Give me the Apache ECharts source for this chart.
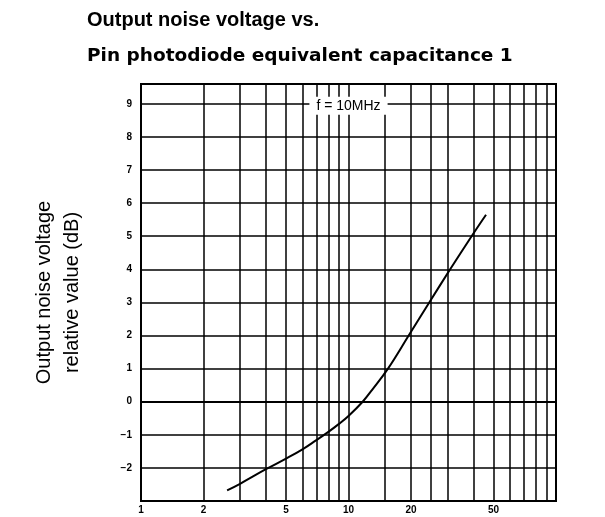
<!DOCTYPE html>
<html>
<head>
<meta charset="utf-8">
<script src="https://cdn.jsdelivr.net/npm/echarts@6/dist/echarts.min.js"></script>
<style>
  html, body { margin: 0; padding: 0; background: #fff; }
  #chart { width: 605px; height: 517px; }
</style>
</head>
<body>
<div id="chart"></div>
<script>
// capacitance (pF) read along the curve, and noise relative value (dB)
const capValues = [2.6, 3, 4, 5, 6, 7, 8, 9, 10, 11.7, 13, 15.5, 19.5, 24.5, 30.9, 39.2, 46];
const noiseDb = [-2.68, -2.48, -2.04, -1.72, -1.44, -1.16, -0.91, -0.67, -0.43, 0.0, 0.36, 1.0, 2.0, 3.0, 4.0, 5.0, 5.65];

// log grid lines and labels
const xGridValues = [1, 2, 3, 4, 5, 6, 7, 8, 9, 10, 15, 20, 25, 30, 40, 50, 60, 70, 80, 90, 100];
const xLabelValues = [1, 2, 5, 10, 20, 50];
const yLabelValues = [-2, -1, 0, 1, 2, 3, 4, 5, 6, 7, 8, 9];

const curve = capValues.map(function (c, i) {
  return [c, noiseDb[i]];
});

const myChart = echarts.init(document.getElementById('chart'));

const option = {
  animation: false,
  title: {
    text: 'Output noise voltage vs.',
    subtext: 'Pin photodiode equivalent capacitance 1',
    left: 82,
    top: 5,
    itemGap: 17,
    textStyle: {
      fontFamily: 'Liberation Sans',
      fontWeight: 'bold',
      fontSize: 20,
      lineHeight: 20,
      color: '#000'
    },
    subtextStyle: {
      fontFamily: 'DejaVu Sans',
      fontWeight: 'bold',
      fontSize: 18.5,
      lineHeight: 19,
      color: '#000'
    }
  },
  grid: {
    left: 141,
    right: 49,
    top: 84,
    bottom: 16,
    show: true,
    borderColor: '#000',
    borderWidth: 2
  },
  xAxis: {
    type: 'log',
    min: 1,
    max: 100,
    axisLine: { lineStyle: { color: '#000', width: 2 } },
    axisTick: { show: false, customValues: xGridValues },
    splitLine: { show: true, lineStyle: { color: '#000', width: 1.5 } },
    axisLabel: {
      customValues: xLabelValues,
      color: '#000',
      fontFamily: 'Liberation Sans',
      fontWeight: 'bold',
      fontSize: 10,
      margin: 4
    }
  },
  yAxis: {
    type: 'value',
    min: -3,
    max: 9.6,
    interval: 1,
    name: 'Output noise voltage\nrelative value (dB)',
    nameLocation: 'middle',
    nameGap: 55,
    nameTextStyle: {
      fontFamily: 'Liberation Sans',
      fontSize: 20,
      lineHeight: 28,
      color: '#000'
    },
    axisLine: { show: true, lineStyle: { color: '#000', width: 2 } },
    axisTick: { show: false },
    splitLine: { show: true, lineStyle: { color: '#000', width: 1.5 } },
    axisLabel: {
      color: '#000',
      fontFamily: 'Liberation Sans',
      fontWeight: 'bold',
      fontSize: 10,
      margin: 9,
      formatter: function (v) {
        if (yLabelValues.indexOf(v) < 0) return '';
        return v < 0 ? '\u2212' + Math.abs(v) : String(v);
      }
    }
  },
  series: [{
    type: 'line',
    data: curve,
    smooth: 0.4,
    symbol: 'none',
    lineStyle: { color: '#000', width: 2 },
    markPoint: {
      symbol: 'circle',
      symbolSize: 0,
      data: [{ coord: [10, 9] }],
      label: {
        show: true,
        position: 'inside',
        offset: [0, 2],
        formatter: 'f = 10MHz',
        color: '#000',
        fontFamily: 'Liberation Sans',
        fontSize: 14,
        backgroundColor: '#fff',
        padding: [2, 7]
      }
    }
  }]
};

myChart.setOption(option);
</script>
</body>
</html>
